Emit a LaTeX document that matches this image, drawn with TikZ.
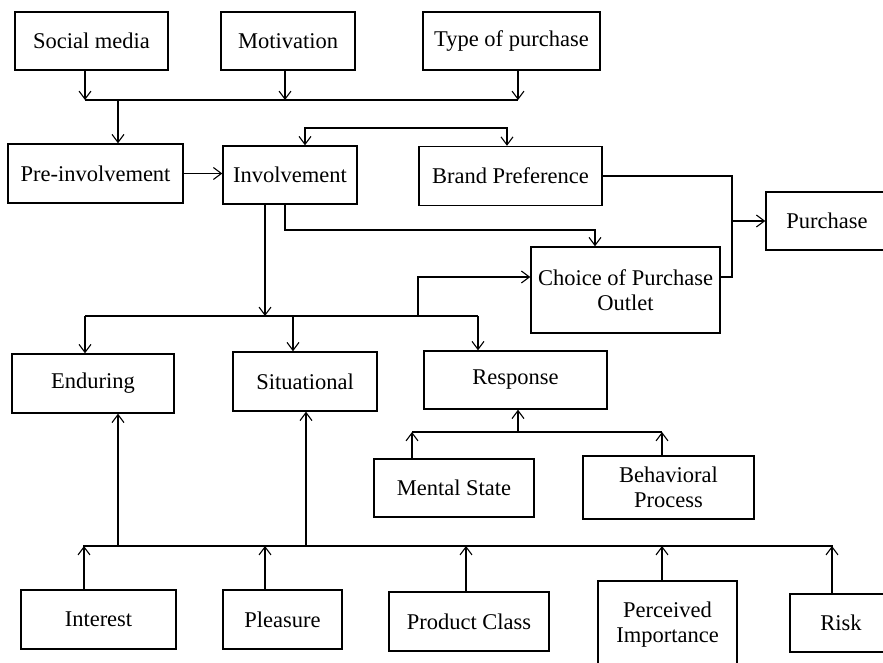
\documentclass[tikz,border=0pt]{standalone}
\usepackage{fontspec}
\setmainfont{Liberation Serif}
\usetikzlibrary{arrows.meta}
\tikzset{
  box/.style={draw, line width=1.4pt, inner sep=0pt, align=center,
    font=\fontsize{22.5}{25}\selectfont},
  conn/.style={line width=1.1pt},
  arr/.style={conn, -{Straight Barb[length=8pt,width=12pt,line width=1.1pt]}},
  darr/.style={conn, {Straight Barb[length=8pt,width=12pt,line width=1.1pt]}-{Straight Barb[length=8pt,width=12pt,line width=1.1pt]}}
}
\begin{document}
\begin{tikzpicture}[x=1pt,y=-1pt]
\useasboundingbox (0,0) rectangle (883,663);
\fill[white] (0,0) rectangle (883,663);
% boxes
\node[box, minimum width=153pt, minimum height=58pt] (soc) at (91.5,41) {Social media};
\node[box, minimum width=134pt, minimum height=58pt] (mot) at (288,41) {Motivation};
\node[box, minimum width=177pt, minimum height=58pt] (typ) at (511.5,41) {Type of purchase};
\node[box, minimum width=175pt, minimum height=59pt] (pre) at (95.5,173.5) {Pre-involvement};
\node[box, minimum width=134pt, minimum height=58pt] (inv) at (290,175) {Involvement};
\node[box, minimum width=183pt, minimum height=59pt] (brand) at (510.5,176) {Brand Preference};
\node[box, minimum width=122pt, minimum height=58pt] (pur) at (827,221) {Purchase};
\node[box, minimum width=189pt, minimum height=86pt] (choice) at (625.5,290) {Choice of Purchase\\Outlet};
\node[box, minimum width=162pt, minimum height=59pt] (end) at (93,383.5) {Enduring};
\node[box, minimum width=144pt, minimum height=59pt] (sit) at (305,381.5) {Situational};
\node[box, minimum width=183pt, minimum height=58pt] (resp) at (515.5,380) {Response};
\node[box, minimum width=160pt, minimum height=58pt] (ment) at (454,488) {Mental State};
\node[box, minimum width=171pt, minimum height=63pt] (beh) at (668.5,487.5) {Behavioral\\Process};
\node[box, minimum width=155pt, minimum height=59pt] (int) at (98.5,619.5) {Interest};
\node[box, minimum width=119pt, minimum height=59pt] (plea) at (282.5,619.5) {Pleasure};
\node[box, minimum width=160pt, minimum height=59pt] (prod) at (469,621.5) {Product Class};
\node[box, minimum width=139pt, minimum height=88pt] (perc) at (667.5,625) {Perceived\\Importance};
\node[box, minimum width=102pt, minimum height=58pt] (risk) at (841,623) {Risk};
% top bus
\coordinate (b1L) at (85,100);
\coordinate (b1M) at (285,100);
\coordinate (b1R) at (518,100);
\coordinate (b1P) at (118,100);
\draw[conn] (b1L) -- (b1R);
\draw[arr] (soc.south -| b1L) -- (b1L);
\draw[arr] (mot.south -| b1M) -- (b1M);
\draw[arr] (typ.south -| b1R) -- (b1R);
\draw[arr] (b1P) -- (b1P |- pre.north);
% pre -> involvement
\draw[arr] (pre.east) -- (pre.east -| inv.west);
% involvement <-> brand preference
\coordinate (f1) at (305,128);
\coordinate (f2) at (507,128);
\draw[darr] (f1 |- inv.north) -- (f1) -- (f2) -- (f2 |- brand.north);
% involvement -> choice
\coordinate (c1) at (285,230);
\coordinate (c2) at (595,230);
\draw[arr] (inv.south -| c1) -- (c1) -- (c2) -- (c2 |- choice.north);
% involvement -> middle bus
\coordinate (b2M) at (265,316);
\coordinate (b2L) at (85,316);
\coordinate (b2S) at (293,316);
\coordinate (b2R) at (478,316);
\coordinate (b2C) at (418,316);
\coordinate (b2Cu) at (418,277);
\draw[arr] (inv.south -| b2M) -- (b2M);
\draw[conn] (b2L) -- (b2R);
\draw[arr] (b2L) -- (b2L |- end.north);
\draw[arr] (b2S) -- (b2S |- sit.north);
\draw[arr] (b2R) -- (b2R |- resp.north);
\draw[arr] (b2C) -- (b2Cu) -- (b2Cu -| choice.west);
% brand / choice -> purchase
\coordinate (pj) at (732,221);
\draw[conn] (brand.east) -- (brand.east -| pj) -- (pj |- b2Cu) -- (b2Cu -| choice.east);
\draw[arr] (pj |- pur.west) -- (pur.west);
% response bus
\coordinate (r1) at (412,432);
\coordinate (r2) at (662,432);
\coordinate (r3) at (518,432);
\draw[conn] (r1) -- (r2);
\draw[arr] (r3) -- (r3 |- resp.south);
\draw[arr] (ment.north -| r1) -- (r1);
\draw[arr] (beh.north -| r2) -- (r2);
% bottom bus
\coordinate (bbL) at (83,546);
\coordinate (bbR) at (833,546);
\coordinate (bbE) at (118,546);
\coordinate (bbS) at (306,546);
\draw[conn] (bbL) -- (bbR);
\draw[arr] (bbE) -- (bbE |- end.south);
\draw[arr] (bbS) -- (bbS |- sit.south);
\coordinate (u1) at (84,546);
\coordinate (u2) at (265,546);
\coordinate (u3) at (466,546);
\coordinate (u4) at (662,546);
\coordinate (u5) at (832,546);
\draw[arr] (int.north -| u1) -- (u1);
\draw[arr] (plea.north -| u2) -- (u2);
\draw[arr] (prod.north -| u3) -- (u3);
\draw[arr] (perc.north -| u4) -- (u4);
\draw[arr] (risk.north -| u5) -- (u5);
\end{tikzpicture}
\end{document}
